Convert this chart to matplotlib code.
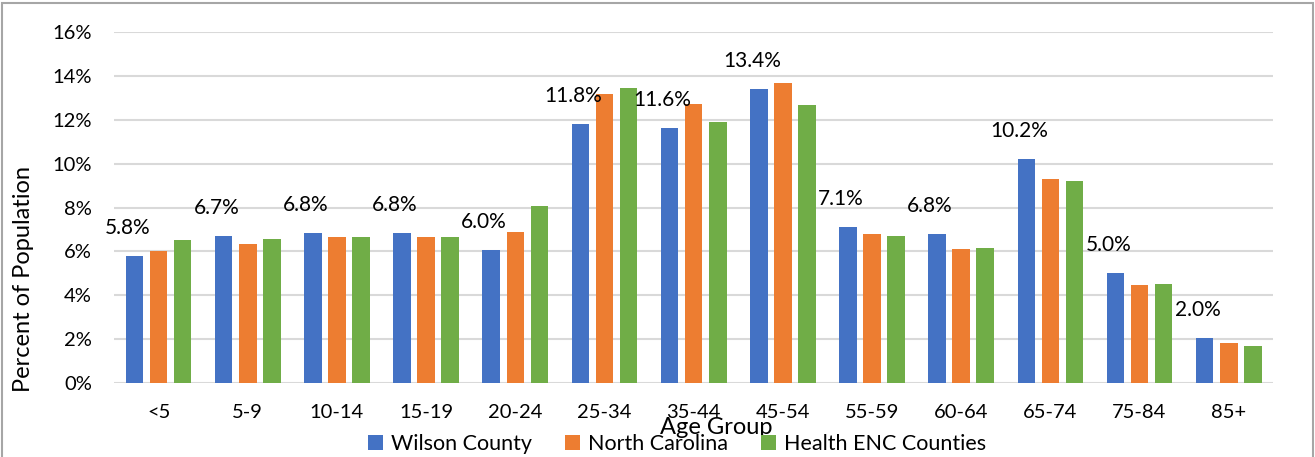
import numpy as np
import matplotlib
matplotlib.use("Agg")
import matplotlib.pyplot as plt
from matplotlib.patches import Rectangle

plt.rcParams['font.family'] = ['Lato', 'DejaVu Sans']

# data (percent of population)
age_groups = ['<5', '5-9', '10-14', '15-19', '20-24', '25-34', '35-44',
              '45-54', '55-59', '60-64', '65-74', '75-84', '85+']
wilson = [5.8, 6.7, 6.85, 6.85, 6.05, 11.8, 11.65, 13.4, 7.1, 6.8, 10.2, 5.0, 2.05]
north_carolina = [6.0, 6.35, 6.64, 6.64, 6.9, 13.2, 12.74, 13.7, 6.78, 6.12, 9.32, 4.47, 1.8]
health_enc = [6.52, 6.58, 6.64, 6.64, 8.05, 13.46, 11.89, 12.68, 6.7, 6.16, 9.2, 4.49, 1.68]
wilson_labels = ['5.8%', '6.7%', '6.8%', '6.8%', '6.0%', '11.8%', '11.6%',
                 '13.4%', '7.1%', '6.8%', '10.2%', '5.0%', '2.0%']

series_names = ['Wilson County', 'North Carolina', 'Health ENC Counties']
colors = ['#4472C4', '#ED7D31', '#70AD47']

fig = plt.figure(figsize=(13.15, 4.57), dpi=100)
ax = fig.add_axes([0.0867, 0.1626, 0.9683 - 0.0867, 0.9293 - 0.1626])

x = np.arange(len(age_groups))
w = 0.197
step = 0.27
bars = []
for i, (vals, c) in enumerate(zip([wilson, north_carolina, health_enc], colors)):
    b = ax.bar(x + (i - 1) * step, vals, width=w, color=c, zorder=3, label=series_names[i])
    bars.append(b)

# data labels above the Wilson bars
for xi, v, lab in zip(x, wilson, wilson_labels):
    ax.annotate(lab, (xi - step, v), xytext=(-7, 28), textcoords='offset pixels',
                ha='center', va='center', fontsize=15, color='#000000')

ax.set_xlim(-0.5, len(age_groups) - 0.5)
ax.set_ylim(0, 16)
ax.set_yticks(np.arange(0, 17, 2))
ax.set_yticklabels([f'{t}%' for t in range(0, 17, 2)], fontsize=14.5)
ax.set_xticks(x)
ax.set_xticklabels(age_groups, fontsize=14.5)
ax.tick_params(length=0, pad=15, axis='x')
ax.tick_params(length=0, pad=16, axis='y')
ax.grid(axis='y', color='#d9d9d9', linewidth=1.5, zorder=0)
for s in ax.spines.values():
    s.set_visible(False)

fig.text(24 / 1315, 1 - 279 / 457, 'Percent of Population', rotation=90,
         ha='center', va='center', fontsize=17)
fig.text(716 / 1315, 1 - 428 / 457, 'Age Group', ha='center', va='center', fontsize=17)

fig.legend(handles=bars, labels=series_names, loc='center', ncol=3,
           bbox_to_anchor=(677 / 1315, 1 - 444 / 457), frameon=False, fontsize=15.5,
           handlelength=0.7, handleheight=0.7, handletextpad=0.4, columnspacing=1.5,
           borderpad=0, borderaxespad=0)

# thin grey frame around the figure
fig.patches.append(Rectangle((0.0015, -0.01), 0.997, 1.003, transform=fig.transFigure,
                             fill=False, edgecolor='#a6a6a6', linewidth=1.5))

fig.savefig('out.png', dpi=100)
